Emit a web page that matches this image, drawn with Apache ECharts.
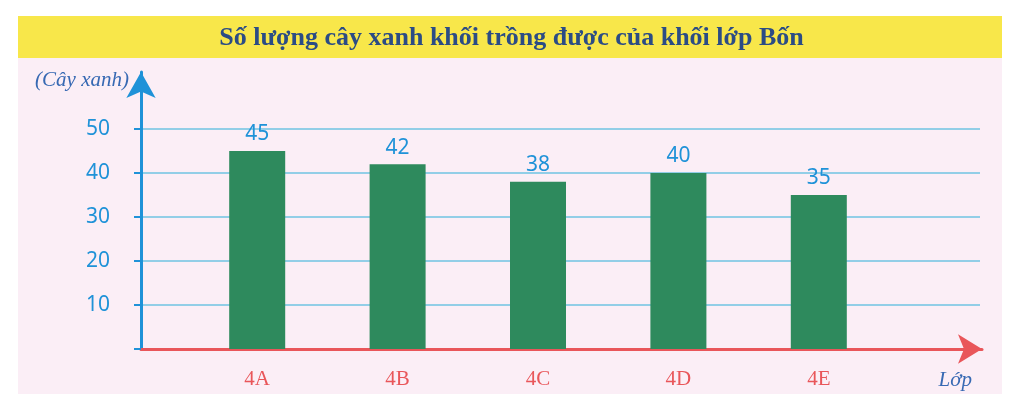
<!DOCTYPE html>
<html>
<head>
<meta charset="utf-8">
<script src="https://cdn.jsdelivr.net/npm/echarts@6/dist/echarts.min.js"></script>
<style>
  html, body { margin: 0; padding: 0; background: #fff; }
  #canvas { width: 1023px; height: 404px; }
</style>
</head>
<body>
<div id="canvas"></div>
<script>
// data
var classes = ['4A', '4B', '4C', '4D', '4E'];
var trees = [45, 42, 38, 40, 35];
var yTicks = [0, 50, 10]; // min, max, interval

var blue = '#1f92d8';
var red = '#e9565a';
var serif = '"Liberation Serif", "DejaVu Serif", serif';

var myChart = echarts.init(document.getElementById('canvas'));

var option = {
  backgroundColor: '#ffffff',
  animation: false,
  title: {
    text: 'Số lượng cây xanh khối trồng được của khối lớp Bốn',
    left: 'center',
    top: 20,
    textStyle: {
      fontFamily: serif,
      fontWeight: 'bold',
      fontSize: 26,
      color: '#2b4c85'
    }
  },
  graphic: [
    { type: 'rect', z: -100, shape: { x: 18, y: 16, width: 984, height: 42 }, style: { fill: '#f8e74a' } },
    { type: 'rect', z: -100, shape: { x: 18, y: 58, width: 984, height: 336 }, style: { fill: '#fbeef6' } }
  ],
  grid: [
    // axes frame with arrows
    { left: 141, right: 41, top: 72, bottom: 55 },
    // gridlines and y labels
    { left: 141, right: 43, top: 129, bottom: 55 },
    // bars
    { left: 187, right: 134, top: 129, bottom: 55 }
  ],
  xAxis: [
    {
      gridIndex: 0, type: 'value', min: 0, max: 1,
      name: 'Lớp', nameLocation: 'end', nameGap: -10,
      nameTextStyle: {
        fontFamily: serif, fontStyle: 'italic', fontSize: 21, color: '#3769b3',
        align: 'right', verticalAlign: 'top', padding: [21, 0, 0, 0]
      },
      axisLine: {
        show: true, lineStyle: { color: red, width: 3 },
        symbol: ['none', 'arrow'], symbolSize: [22, 24]
      },
      axisTick: { show: false }, axisLabel: { show: false }, splitLine: { show: false }
    },
    {
      gridIndex: 1, type: 'value', min: 0, max: 1, show: false
    },
    {
      gridIndex: 2, type: 'category', data: classes,
      axisLine: { show: false }, axisTick: { show: false },
      axisLabel: { margin: 20, fontFamily: serif, fontSize: 21, color: red }
    }
  ],
  yAxis: [
    {
      gridIndex: 0, type: 'value', min: 0, max: 1,
      name: '(Cây xanh)', nameLocation: 'end', nameGap: -8,
      nameTextStyle: {
        fontFamily: serif, fontStyle: 'italic', fontSize: 21, color: '#3769b3',
        align: 'right', verticalAlign: 'middle', padding: [0, 12, 0, 0]
      },
      axisLine: {
        show: true, lineStyle: { color: blue, width: 3 },
        symbol: ['none', 'arrow'], symbolSize: [22, 26]
      },
      axisTick: { show: false }, axisLabel: { show: false }, splitLine: { show: false }
    },
    {
      gridIndex: 1, type: 'value', min: yTicks[0], max: yTicks[1], interval: yTicks[2],
      axisLine: { show: false },
      axisTick: { show: true, length: 7, lineStyle: { color: blue, width: 2 } },
      axisLabel: {
        margin: 31, fontFamily: '"Noto Sans", sans-serif', fontSize: 21, color: blue,
        formatter: function (v) { return v === 0 ? '' : v; }
      },
      splitLine: { show: true, showMinLine: false, lineStyle: { color: '#6fc3e2', width: 1.5 } }
    },
    {
      gridIndex: 2, type: 'value', min: yTicks[0], max: yTicks[1], show: false
    }
  ],
  series: [
    {
      type: 'bar',
      xAxisIndex: 2,
      yAxisIndex: 2,
      data: trees,
      barWidth: 56,
      itemStyle: { color: '#2e8a5d' },
      label: {
        show: true, position: 'top', distance: 6,
        fontFamily: '"Noto Sans", sans-serif', fontSize: 21, color: blue
      }
    }
  ]
};

myChart.setOption(option, true);
</script>
</body>
</html>
